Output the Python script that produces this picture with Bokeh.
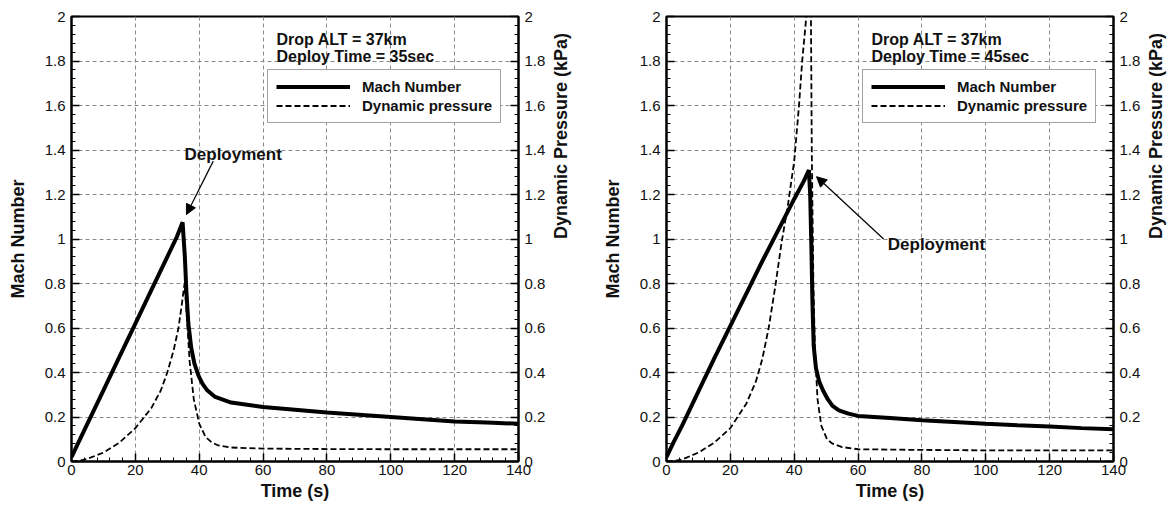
import math
from bokeh.plotting import figure
from bokeh.models import (LinearAxis, FixedTicker, CustomJSTickFormatter, Legend,
                          LegendItem, Label, Arrow, NormalHead, Range1d)
from bokeh.layouts import row
from bokeh.embed import file_html
from bokeh.resources import INLINE

# ---------------- data ----------------
# Left panel: deploy time = 35 s
left_mach_t = [0, 2, 5, 10, 15, 20, 25, 30, 33, 34.8, 35.5, 36.0, 36.6, 37.5, 38.5, 39.8,
               41, 42.5, 45, 50, 55, 60, 70, 80, 90, 100, 110, 120, 130, 140]
left_mach = [0.02, 0.08, 0.17, 0.32, 0.47, 0.62, 0.77, 0.92, 1.01, 1.075, 0.92, 0.76, 0.62,
             0.51, 0.44, 0.385, 0.35, 0.32, 0.29, 0.265, 0.255, 0.245, 0.233, 0.22, 0.21,
             0.20, 0.19, 0.18, 0.175, 0.17]
left_q_t = [0, 3, 5, 10, 15, 20, 25, 28, 30, 32, 33.5, 34.5, 35.4, 36, 37, 38.3, 40, 42, 44,
            46, 50, 55, 60, 80, 100, 120, 140]
left_q = [0.0, 0.005, 0.012, 0.04, 0.085, 0.15, 0.24, 0.32, 0.40, 0.50, 0.60, 0.70, 0.80,
          0.68, 0.45, 0.28, 0.17, 0.11, 0.085, 0.072, 0.063, 0.06, 0.058, 0.056, 0.055,
          0.055, 0.055]

# Right panel: deploy time = 45 s
right_mach_t = [0, 2, 5, 10, 15, 20, 25, 30, 35, 40, 43, 44.6, 45.0, 45.4, 45.7, 46.1, 46.8,
                47.8, 49, 50.5, 52, 54, 57, 60, 70, 80, 90, 100, 110, 120, 130, 140]
right_mach = [0.02, 0.08, 0.165, 0.315, 0.465, 0.61, 0.755, 0.90, 1.04, 1.18, 1.26, 1.31, 1.20,
              0.95, 0.72, 0.52, 0.42, 0.36, 0.32, 0.28, 0.25, 0.23, 0.215, 0.205, 0.195,
              0.185, 0.178, 0.17, 0.163, 0.157, 0.15, 0.145]
right_q_t = [0, 3, 5, 10, 15, 20, 25, 28, 30, 32, 34, 36, 38, 40, 41.5, 42.5, 43.8, 44.6,
             45.2, 45.5, 46, 46.5, 47.3, 48.5, 50.3, 52, 55, 60, 80, 100, 120, 140]
right_q = [0.0, 0.004, 0.01, 0.04, 0.085, 0.15, 0.26, 0.36, 0.46, 0.60, 0.78, 0.98, 1.15,
           1.35, 1.60, 1.80, 2.00, 2.15, 2.10, 1.40, 0.80, 0.50, 0.28, 0.16, 0.10, 0.08,
           0.065, 0.055, 0.052, 0.05, 0.05, 0.05]

x_ticks = [0, 20, 40, 60, 80, 100, 120, 140]
y_ticks = [0, 0.2, 0.4, 0.6, 0.8, 1.0, 1.2, 1.4, 1.6, 1.8, 2.0]

series_names = ["Mach Number", "Dynamic pressure"]
drop_alt_text = "Drop ALT = 37km"
deploy_texts = ["Deploy  Time = 35sec", "Deploy  Time = 45sec"]

FONT = "Liberation Sans"


def style_axis(ax):
    ax.axis_line_width = 2
    ax.axis_line_color = "black"
    ax.major_tick_in = 8
    ax.major_tick_out = 0
    ax.minor_tick_in = 4
    ax.minor_tick_out = 0
    ax.major_tick_line_width = 1.5
    ax.minor_tick_line_width = 1
    ax.major_tick_line_color = "black"
    ax.minor_tick_line_color = "black"
    ax.major_label_text_font = FONT
    ax.major_label_text_font_size = "15px"
    ax.major_label_text_color = "#111111"
    ax.axis_label_text_font = FONT
    ax.axis_label_text_font_size = "18px"
    ax.axis_label_text_font_style = "bold"
    ax.axis_label_text_color = "#111111"


def make_panel(mt, mv, qt, qv, deploy_text, ann, border_left, border_right):
    p = figure(frame_width=447, frame_height=445,
               x_range=Range1d(0, 140), y_range=Range1d(0, 2),
               output_backend="svg", toolbar_location=None,
               min_border_left=border_left, min_border_right=border_right,
               min_border_top=16, min_border_bottom=36,
               background_fill_color="white", border_fill_color="white")
    p.outline_line_color = "black"
    p.outline_line_width = 2

    xt = FixedTicker(ticks=x_ticks, minor_ticks=[i * 4 for i in range(36)])
    yt = FixedTicker(ticks=y_ticks, minor_ticks=[i * 0.04 for i in range(51)])
    yfmt = CustomJSTickFormatter(code="return String(Number(tick.toFixed(2)));")

    p.xaxis.ticker = xt
    p.yaxis.ticker = yt
    p.yaxis.formatter = yfmt
    p.xaxis.axis_label = "Time (s)"
    p.yaxis.axis_label = "Mach Number"
    for ax in p.xaxis + p.yaxis:
        style_axis(ax)
    p.xaxis.major_label_standoff = 3
    p.xaxis.axis_label_standoff = 3
    p.yaxis.major_label_standoff = 6
    p.yaxis.axis_label_standoff = 14

    rax = LinearAxis(ticker=yt, formatter=yfmt, axis_label="Dynamic Pressure (kPa)")
    style_axis(rax)
    rax.major_label_standoff = 6
    rax.axis_label_standoff = 13
    rax.axis_label_orientation = math.pi / 2
    p.add_layout(rax, "right")

    for g in (p.xgrid, p.ygrid):
        g.grid_line_color = "#8a8a8a"
        g.grid_line_dash = "4 3"
        g.grid_line_width = 1

    r_q = p.line(qt, qv, line_color="black", line_width=1.8, line_dash="6 3")
    r_m = p.line(mt, mv, line_color="black", line_width=4)

    legend = Legend(items=[LegendItem(label=series_names[0], renderers=[r_m]),
                           LegendItem(label=series_names[1], renderers=[r_q])],
                    location=(196, 338), orientation="vertical",
                    glyph_width=74, glyph_height=17, label_height=17,
                    label_standoff=12, padding=8, spacing=2, margin=0,
                    border_line_color="#444444", border_line_width=1,
                    background_fill_color="white", background_fill_alpha=1,
                    label_text_font=FONT, label_text_font_size="15px",
                    label_text_font_style="bold", label_text_color="#111111")
    p.add_layout(legend, "center")

    p.add_layout(Label(x=64.2, y=1.895, text=drop_alt_text, text_font=FONT,
                       text_font_size="16px", text_font_style="bold",
                       text_baseline="middle", text_color="#111111"))
    p.add_layout(Label(x=64.2, y=1.82, text=deploy_text, text_font=FONT,
                       text_font_size="16px", text_font_style="bold",
                       text_baseline="middle", text_color="#111111"))

    (tx, ty), (ax0, ay0, ax1, ay1) = ann
    p.add_layout(Label(x=tx, y=ty, text="Deployment", text_font=FONT,
                       text_font_size="17px", text_font_style="bold",
                       text_baseline="middle", text_color="#111111"))
    p.add_layout(Arrow(end=NormalHead(size=10, fill_color="black", line_color="black"),
                       x_start=ax0, y_start=ay0, x_end=ax1, y_end=ay1,
                       line_color="black", line_width=1.2))
    return p


p1 = make_panel(left_mach_t, left_mach, left_q_t, left_q, deploy_texts[0],
                ((35.4, 1.38), (44.4, 1.35, 36.0, 1.11)), 71, 74)
p2 = make_panel(right_mach_t, right_mach, right_q_t, right_q, deploy_texts[1],
                ((69.3, 0.975), (68.0, 1.0, 47.0, 1.28)), 74, 52)

layout = row(p1, p2)
open("out.html", "w").write(file_html(layout, INLINE))
